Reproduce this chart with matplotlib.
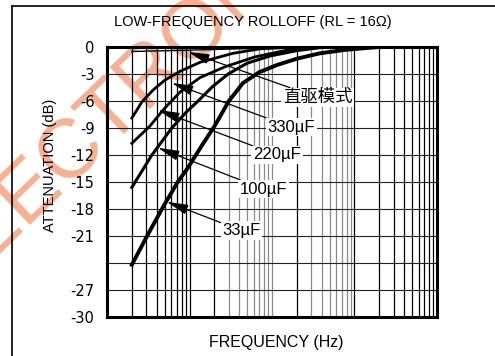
import numpy as np
import matplotlib
matplotlib.use("Agg")
from matplotlib import pyplot
from matplotlib.lines import Line2D

pyplot.rcParams['font.family'] = ['Liberation Sans', 'Noto Sans CJK SC', 'DejaVu Sans']

# curves: frequency (Hz) / attenuation (dB)
f_33uF = [20, 31, 49, 72, 96, 140, 204, 300, 445, 700, 1150, 2000, 3800, 8000, 20000]
db_33uF = [-24.2, -20.9, -17.6, -15.0, -13.4, -11.0, -8.7, -6.0, -4.0, -2.8, -2.0, -1.3, -0.7, -0.3, 0.0]

f_100uF = [20, 35, 61, 90, 127, 190, 294, 500, 940, 2000, 4400, 20000]
db_100uF = [-15.6, -12.0, -9.0, -7.3, -6.0, -4.4, -3.0, -1.8, -1.0, -0.4, 0.0, 0.0]

f_220uF = [20, 33, 50, 77, 134, 269, 620, 1620, 4400, 20000]
db_220uF = [-10.7, -8.8, -6.8, -5.0, -3.4, -2.2, -1.1, -0.3, 0.0, 0.0]

f_330uF = [20, 26.5, 36, 50, 77, 134, 337, 717, 2180, 20000]
db_330uF = [-7.9, -6.1, -4.8, -3.7, -2.7, -1.7, -0.7, -0.2, 0.0, 0.0]

f_direct = [20, 100, 1000, 20000]
db_direct = [-0.5, -0.35, -0.1, 0.0]

labels = ["直驱模式", "330µF", "220µF", "100µF", "33µF"]
# arrow tip (f, dB) and label anchor (f, dB)
tips = [(96, -0.55), (61, -4.0), (41.5, -7.0), (41.5, -11.2), (53, -17.2)]
label_pos = [(1360, -5.6), (880, -8.9), (590, -12.0), (410, -15.8), (250, -20.4)]
label_size = [12.5, 12, 12, 12, 12]

ytick_vals = [0, -3, -6, -9, -12, -15, -18, -21, -24, -27, -30]
ytick_text = ["0", "-3", "-6", "-9", "-12", "-15", "-18", "-21", "", "-27", "-30"]

fig = pyplot.figure(figsize=(4.95, 3.56), dpi=100)
ax = fig.add_axes([107/495, 39/356, 330/495, 270/356])
ax.patch.set_alpha(0)

# watermark behind the chart
fig.text(-0.10, 0.17, "ELECTRONICS", fontsize=60, color='#f6a27e', alpha=0.85,
         rotation=44, rotation_mode='anchor', ha='left', va='baseline', zorder=-5)

ax.set_xscale('log')
ax.set_xlim(10, 1e5)
ax.set_ylim(-30, 0)

# grid
for dec in [10, 100, 1000, 10000]:
    for m in range(1, 10):
        f = dec * m
        if f <= 10:
            continue
        dark = f <= 200 or f >= 10000 or f == 2000
        ax.axvline(f, color='black' if dark else '#8a8a8a', lw=0.9, zorder=1)
for y in ytick_vals[1:-1]:
    ax.axhline(y, color='#222222', lw=0.8, zorder=1)

ax.plot(f_direct, db_direct, color='black', lw=1.0, zorder=3)
ax.plot(f_330uF, db_330uF, color='black', lw=2.0, zorder=3)
ax.plot(f_220uF, db_220uF, color='black', lw=2.0, zorder=3)
ax.plot(f_100uF, db_100uF, color='black', lw=2.2, zorder=3)
ax.plot(f_33uF, db_33uF, color='black', lw=2.8, zorder=3)

for text, tip, pos, size in zip(labels, tips, label_pos, label_size):
    ax.annotate(text, xy=tip, xytext=pos, fontsize=size, ha='left', va='center', zorder=5,
                bbox=dict(boxstyle='square,pad=0.1', fc='white', ec='none'),
                arrowprops=dict(arrowstyle='-|>,head_length=1.3,head_width=0.3',
                                mutation_scale=10, color='black', lw=0.9,
                                shrinkA=0, shrinkB=0))

ax.set_yticks(ytick_vals)
ax.set_yticklabels(ytick_text, fontsize=10.5, family='DejaVu Sans')
ax.set_xticks([])
ax.minorticks_off()
ax.tick_params(axis='both', length=0, pad=9)
for sp in ax.spines.values():
    sp.set_linewidth(2.2)
    sp.set_zorder(6)

fig.text(253/495, 1 - 22/356, "LOW-FREQUENCY ROLLOFF (RL = 16Ω)", fontsize=10.5,
         ha='center', va='center')
fig.text(50/495, 1 - 165/356, "ATTENUATION (dB)", fontsize=10.5, rotation=90,
         ha='center', va='center')
fig.text(276/495, 1 - 342/356, "FREQUENCY (Hz)", fontsize=11.5, ha='center', va='center')

# outer frame (cut off on the right and bottom)
fig.add_artist(Line2D([12/495, 1], [1 - 6/356, 1 - 6/356], transform=fig.transFigure,
                      color='black', lw=1.2))
fig.add_artist(Line2D([12/495, 12/495], [0, 1 - 6/356], transform=fig.transFigure,
                      color='black', lw=1.2))

fig.savefig("out.png", dpi=100)
